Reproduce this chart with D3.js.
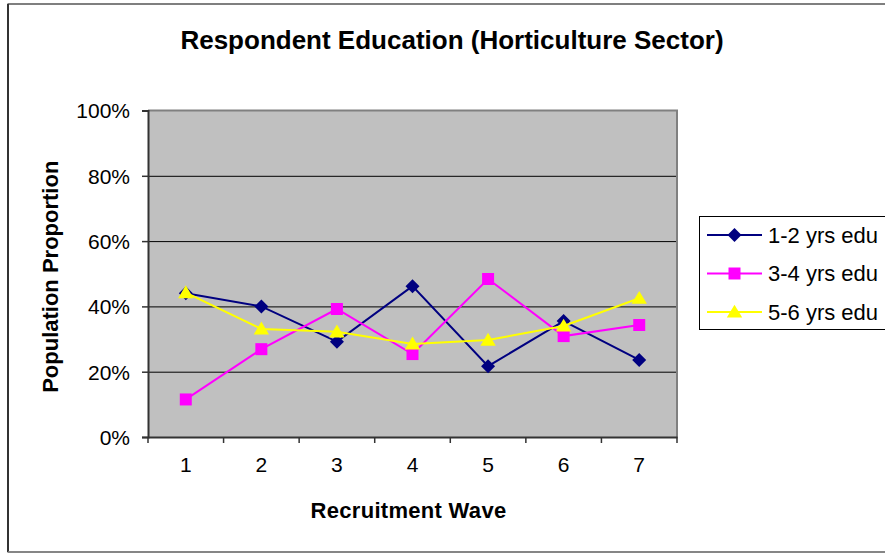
<!DOCTYPE html>
<meta charset="utf-8">
<style>
body { margin: 0; background: #fff; }
text { font-family: Arial, "Liberation Sans", sans-serif; fill: #000; }
.title { font-weight: bold; font-size: 26px; }
.axis-title { font-weight: bold; font-size: 22px; }
.tick-label { font-size: 21px; }
.legend-label { font-size: 22px; }
</style>
<body>
<script src="https://d3js.org/d3.v7.min.js"></script>
<script>
// data
var waves = ["1", "2", "3", "4", "5", "6", "7"];
var edu12 = [0.44, 0.40, 0.292, 0.462, 0.217, 0.355, 0.236];
var edu34 = [0.115, 0.269, 0.392, 0.254, 0.484, 0.309, 0.343];
var edu56 = [0.442, 0.331, 0.322, 0.285, 0.297, 0.34, 0.425];
var seriesNames = ["1-2 yrs edu", "3-4 yrs edu", "5-6 yrs edu"];
var yTicks = [0, 0.2, 0.4, 0.6, 0.8, 1];

var series = [
  {name: seriesNames[0], values: edu12, color: "#000080", shape: "diamond"},
  {name: seriesNames[1], values: edu34, color: "#FF00FF", shape: "square"},
  {name: seriesNames[2], values: edu56, color: "#FFFF00", shape: "triangle"}
];

var W = 885, H = 554;
var plot = {left: 148, right: 677, top: 110.5, bottom: 437};

var svg = d3.select("body").append("svg")
    .attr("width", W)
    .attr("height", H);

// outer chart border (right edge runs off the picture)
svg.append("rect")
    .attr("x", 8).attr("y", 4)
    .attr("width", 900).attr("height", 548)
    .attr("fill", "#fff")
    .attr("stroke", "#000").attr("stroke-width", 1);
svg.append("line")
    .attr("x1", 8).attr("x2", 8).attr("y1", 4).attr("y2", 552)
    .attr("stroke", "#333").attr("stroke-width", 2);
svg.append("line")
    .attr("x1", 8).attr("x2", 900).attr("y1", 552).attr("y2", 552)
    .attr("stroke", "#888").attr("stroke-width", 1.5);

// scales
var x = d3.scaleBand().domain(waves).range([plot.left, plot.right]).padding(0);
var y = d3.scaleLinear().domain([0, 1]).range([plot.bottom, plot.top]);
function cx(i) { return x(waves[i]) + x.bandwidth() / 2; }

// plot area
svg.append("rect")
    .attr("x", plot.left).attr("y", plot.top)
    .attr("width", plot.right - plot.left)
    .attr("height", plot.bottom - plot.top)
    .attr("fill", "#C0C0C0");

// gridlines
svg.append("g")
    .attr("transform", "translate(" + plot.left + ",0)")
    .call(d3.axisLeft(y).tickValues(yTicks.slice(1, 5))
        .tickSize(-(plot.right - plot.left)).tickFormat(""))
    .call(function(g) { g.select(".domain").remove(); })
    .selectAll("line").attr("stroke", "#000").attr("stroke-width", 1);

// top and right border of the plot area
svg.append("path")
    .attr("d", "M" + plot.left + "," + plot.top + "H" + plot.right + "V" + plot.bottom)
    .attr("fill", "none").attr("stroke", "#808080").attr("stroke-width", 2);

// y axis
var yAxis = svg.append("g")
    .attr("transform", "translate(" + plot.left + ",0)")
    .call(d3.axisLeft(y).tickValues(yTicks).tickSize(6).tickPadding(12)
        .tickFormat(d3.format(".0%")));
yAxis.select(".domain").attr("stroke", "#333").attr("stroke-width", 2);
yAxis.selectAll("line").attr("stroke", "#333").attr("stroke-width", 1.5);
yAxis.selectAll("text").attr("class", "tick-label")
    .attr("font-family", null).attr("font-size", null)
    .attr("dy", "0.35em");

// x axis: ticks between categories
var xAxis = svg.append("g")
    .attr("transform", "translate(0," + plot.bottom + ")")
    .call(d3.axisBottom(x).tickSize(0).tickPadding(20));
xAxis.select(".domain").attr("stroke", "#333").attr("stroke-width", 2);
xAxis.selectAll("text").attr("class", "tick-label")
    .attr("font-family", null).attr("font-size", null);
xAxis.selectAll(".sep")
    .data(d3.range(waves.length + 1))
  .enter().append("line")
    .attr("class", "sep")
    .attr("x1", function(i) { return plot.left + i * x.bandwidth(); })
    .attr("x2", function(i) { return plot.left + i * x.bandwidth(); })
    .attr("y1", 0).attr("y2", 6)
    .attr("stroke", "#333").attr("stroke-width", 1.5);

// markers
function marker(shape, s) {
  if (shape === "diamond") return "M0," + (-s) + "L" + s + ",0L0," + s + "L" + (-s) + ",0Z";
  if (shape === "square") return "M" + (-s) + "," + (-s) + "H" + s + "V" + s + "H" + (-s) + "Z";
  return "M0," + (-s * 1.05) + "L" + (s * 1.1) + "," + (s * 0.8) + "L" + (-s * 1.1) + "," + (s * 0.8) + "Z";
}
var markerSize = {diamond: 7, square: 6, triangle: 7};

var line = d3.line()
    .x(function(d, i) { return cx(i); })
    .y(function(d) { return y(d); });

series.forEach(function(s) {
  svg.append("path")
      .datum(s.values)
      .attr("d", line)
      .attr("fill", "none")
      .attr("stroke", s.color)
      .attr("stroke-width", 2);
  svg.selectAll(null)
      .data(s.values)
    .enter().append("path")
      .attr("transform", function(d, i) { return "translate(" + cx(i) + "," + y(d) + ")"; })
      .attr("d", marker(s.shape, markerSize[s.shape]))
      .attr("fill", s.color);
});

// title
svg.append("text")
    .attr("class", "title")
    .attr("x", 452).attr("y", 49)
    .attr("text-anchor", "middle")
    .text("Respondent Education (Horticulture Sector)");

// axis titles
svg.append("text")
    .attr("class", "axis-title")
    .attr("transform", "translate(58," + ((plot.top + plot.bottom) / 2 + 3) + ") rotate(-90)")
    .attr("text-anchor", "middle")
    .text("Population Proportion");

svg.append("text")
    .attr("class", "axis-title")
    .attr("x", (plot.left + plot.right) / 2 - 4).attr("y", 518)
    .attr("text-anchor", "middle")
    .style("letter-spacing", "0.3px")
    .text("Recruitment Wave");

// legend
var legend = svg.append("g");
legend.append("rect")
    .attr("x", 699.5).attr("y", 216.5)
    .attr("width", 200).attr("height", 113)
    .attr("fill", "#fff").attr("stroke", "#000").attr("stroke-width", 1);

var rows = legend.selectAll(".row")
    .data(series)
  .enter().append("g")
    .attr("transform", function(d, i) { return "translate(0," + (235 + i * 38.5) + ")"; });
rows.append("line")
    .attr("x1", 707).attr("x2", 762)
    .attr("stroke", function(d) { return d.color; })
    .attr("stroke-width", 2);
rows.append("path")
    .attr("transform", "translate(734.5,0)")
    .attr("d", function(d) { return marker(d.shape, markerSize[d.shape]); })
    .attr("fill", function(d) { return d.color; });
rows.append("text")
    .attr("class", "legend-label")
    .attr("x", 768).attr("dy", "0.36em")
    .text(function(d) { return d.name; });
</script>
</body>
